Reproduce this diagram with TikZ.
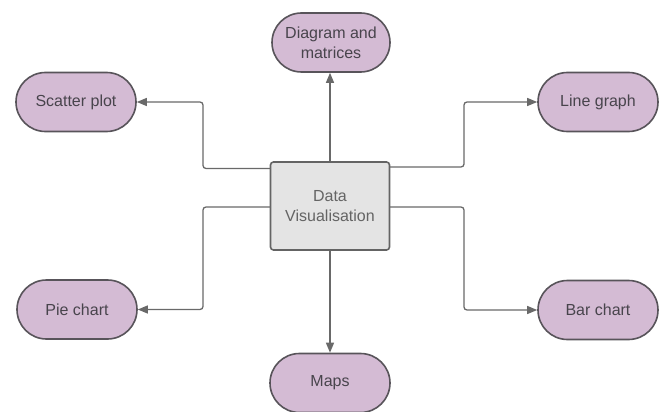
\documentclass[tikz,border=0pt]{standalone}
\usepackage{fontspec}
\setmainfont{Liberation Sans}
\usetikzlibrary{arrows.meta,calc}
\definecolor{pillfill}{RGB}{212,187,212}
\definecolor{pillline}{RGB}{88,84,90}
\definecolor{boxfill}{RGB}{228,228,228}
\definecolor{boxline}{RGB}{100,100,100}
\definecolor{txt}{RGB}{72,68,76}
\definecolor{conn}{RGB}{105,105,105}
\tikzset{
  pill/.style={draw=pillline, fill=pillfill, line width=1.6pt, rounded corners=29.5pt,
    minimum width=120pt, minimum height=59pt, inner sep=0pt, align=center,
    text=txt, font=\fontsize{16}{20}\selectfont},
  centerbox/.style={draw=boxline, fill=boxfill, line width=1.6pt, rounded corners=3pt,
    minimum width=119pt, minimum height=88pt, inner sep=0pt, align=center,
    text=boxline, font=\fontsize{16}{20}\selectfont},
  conn/.style={draw=conn, line width=1.3pt, rounded corners=3pt,
    -{Triangle[length=10pt,width=8pt]}}
}
\begin{document}
\begin{tikzpicture}[x=1pt,y=-1pt]
\useasboundingbox (0,0) rectangle (662,412);
\node[centerbox] (dv) at (330,206) {Data\\Visualisation};
\node[pill, minimum width=118pt] (dm) at (331,42.5) {Diagram and\\matrices};
\node[pill] (sp) at (76,102) {Scatter plot};
\node[pill] (lg) at (598,102) {Line graph};
\node[pill] (pc) at (77,309.5) {Pie chart};
\node[pill] (bc) at (598,310) {Bar chart};
\node[pill] (mp) at (330,383) {Maps};
\coordinate (lu) at (270.5,168.5);
\coordinate (ll) at (270.5,207);
\coordinate (ru) at (389.5,167);
\coordinate (rl) at (389.5,207);
\draw[conn] (dv.north) -- (dv.north |- dm.south);
\draw[conn] (dv.south) -- (mp.north);
\draw[conn] (lu) -- (203,168.5) |- (sp.east);
\draw[conn] (ll) -- (203,207) |- (pc.east);
\draw[conn] (ru) -- (464,167) |- (lg.west);
\draw[conn] (rl) -- (464,207) |- (bc.west);
\end{tikzpicture}
\end{document}
